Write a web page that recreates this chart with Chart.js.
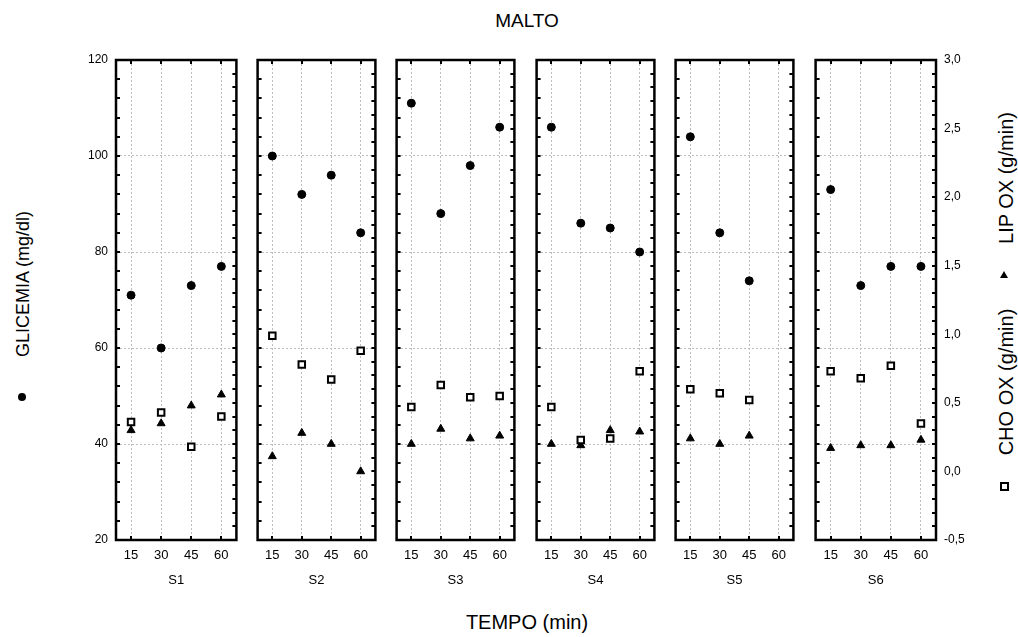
<!DOCTYPE html>
<html>
<head>
<meta charset="utf-8">
<script src="https://cdn.jsdelivr.net/npm/chart.js@4/dist/chart.umd.min.js"></script>
<style>
  body { margin: 0; background: #fff; }
  #wrap { position: relative; width: 1018px; height: 637px; overflow: hidden; font-family: "Liberation Sans", Arial, sans-serif; color: #000; }
  #wrap canvas { position: absolute; }
  .lbl { position: absolute; white-space: nowrap; transform: translate(-50%, -50%); line-height: 1; }
  .rot { transform: translate(-50%, -50%) rotate(-90deg); }
  .mk { position: absolute; }
</style>
</head>
<body>
<div id="wrap">
  <div class="lbl" style="left:527px; top:20px; font-size:19px;">MALTO</div>
  <div class="lbl" style="left:527px; top:622px; font-size:20px;">TEMPO (min)</div>
  <div class="lbl rot" style="left:23px; top:284px; font-size:18px;">GLICEMIA (mg/dl)</div>
  <div class="lbl rot" style="left:1006px; top:178px; font-size:20px;">LIP OX (g/min)</div>
  <div class="lbl rot" style="left:1006px; top:382px; font-size:20px;">CHO OX (g/min)</div>
  <div class="mk" style="left:18px; top:393px; width:8px; height:8px; border-radius:50%; background:#000;"></div>
  <div class="mk" style="left:1000px; top:271px; width:0; height:0; border-left:4px solid transparent; border-right:4px solid transparent; border-bottom:7px solid #000;"></div>
  <div class="mk" style="left:1000px; top:482px; width:5px; height:5px; border:2px solid #000; background:#fff;"></div>
</div>
<script>
const panels = ["S1", "S2", "S3", "S4", "S5", "S6"];
const tempo = ["15", "30", "45", "60"];

// GLICEMIA (mg/dl) - left axis
const glicemia = [
  [71, 60, 73, 77],
  [100, 92, 96, 84],
  [111, 88, 98, 106],
  [106, 86, 85, 80],
  [104, 84, 74, null],
  [93, 73, 77, 77]
];
// LIP OX (g/min) - right axis
const lipOx = [
  [0.30, 0.35, 0.48, 0.56],
  [0.11, 0.28, 0.20, 0.00],
  [0.20, 0.31, 0.24, 0.26],
  [0.20, 0.19, 0.30, 0.29],
  [0.24, 0.20, 0.26, null],
  [0.17, 0.19, 0.19, 0.23]
];
// CHO OX (g/min) - right axis
const choOx = [
  [0.36, 0.43, 0.18, 0.40],
  [0.99, 0.78, 0.67, 0.88],
  [0.47, 0.63, 0.54, 0.55],
  [0.47, 0.23, 0.24, 0.73],
  [0.60, 0.57, 0.52, null],
  [0.73, 0.68, 0.77, 0.35]
];

const panelLeft = [116, 255, 394, 534, 673, 813];
const panelW = 123;
const gridGrey = "#bdbdbd";

// frame + inward tick marks
const framePlugin = {
  id: "frame",
  afterDraw(chart) {
    const { ctx, chartArea: a, scales } = chart;
    ctx.save();
    ctx.strokeStyle = "#000";
    ctx.lineWidth = 2;
    ctx.beginPath();
    for (let v = 20; v <= 120; v += 4) {
      const y = Math.round(scales.y.getPixelForValue(v));
      ctx.moveTo(a.left, y); ctx.lineTo(a.left + 4, y);
    }
    for (let k = -5; k <= 30; k++) {
      const y = Math.round(scales.y2.getPixelForValue(k / 10));
      ctx.moveTo(a.right, y); ctx.lineTo(a.right - 4, y);
    }
    tempo.forEach((t, j) => {
      const x = Math.round(scales.x.getPixelForValue(j));
      ctx.moveTo(x, a.top); ctx.lineTo(x, a.top + 4);
      ctx.moveTo(x, a.bottom); ctx.lineTo(x, a.bottom - 4);
    });
    ctx.stroke();
    ctx.lineWidth = 2.5;
    ctx.strokeRect(a.left, a.top, a.right - a.left, a.bottom - a.top);
    ctx.restore();
  }
};

const noPad = s => { s.paddingLeft = 0; s.paddingRight = 0; s.paddingTop = 0; s.paddingBottom = 0; };

const wrap = document.getElementById("wrap");

panels.forEach((name, i) => {
  const wL = i === 0 ? 40 : 0;
  const wR = i === 5 ? 40 : 0;
  const cv = document.createElement("canvas");
  cv.width = panelW + 8 + wL + wR;
  cv.height = 540;
  cv.style.left = (panelLeft[i] - 4 - wL) + "px";
  cv.style.top = "50px";
  wrap.appendChild(cv);

  new Chart(cv, {
    type: "line",
    data: {
      labels: tempo,
      datasets: [
        {
          label: "GLICEMIA",
          data: glicemia[i],
          yAxisID: "y",
          showLine: false,
          pointStyle: "circle",
          pointRadius: 4,
          backgroundColor: "#000",
          borderColor: "#000",
          order: 1
        },
        {
          label: "CHO OX",
          data: choOx[i],
          yAxisID: "y2",
          showLine: false,
          pointStyle: "rect",
          pointRadius: 4.6,
          pointBorderWidth: 2,
          backgroundColor: "#fff",
          borderColor: "#000",
          order: 2
        },
        {
          label: "LIP OX",
          data: lipOx[i],
          yAxisID: "y2",
          showLine: false,
          pointStyle: "triangle",
          pointRadius: 4.6,
          backgroundColor: "#000",
          borderColor: "#000",
          order: 3
        }
      ]
    },
    options: {
      responsive: false,
      animation: false,
      events: [],
      layout: { padding: { left: 4, right: 4, top: 10, bottom: 0 } },
      plugins: { legend: { display: false }, tooltip: { enabled: false } },
      scales: {
        x: {
          type: "category",
          offset: true,
          grid: { color: gridGrey, lineWidth: 1, drawTicks: false, offset: false },
          border: { display: false, dash: [2, 2] },
          ticks: { color: "#000", font: { size: 13, family: "Liberation Sans" }, padding: 8, maxRotation: 0 },
          title: { display: true, text: name, color: "#000", font: { size: 13, family: "Liberation Sans" }, padding: { top: 0, bottom: 2 } },
          afterFit: s => { s.height = 50; noPad(s); }
        },
        y: {
          position: "left",
          min: 20,
          max: 120,
          grid: { color: gridGrey, lineWidth: 1, drawTicks: false },
          border: { display: false, dash: [2, 2] },
          ticks: { display: i === 0, stepSize: 20, color: "#000", font: { size: 12, family: "Liberation Sans" }, padding: 8 },
          afterFit: s => { s.width = wL; noPad(s); }
        },
        y2: {
          position: "right",
          display: i === 5,
          min: -0.5,
          max: 3.0,
          grid: { display: false, drawTicks: false },
          border: { display: false },
          ticks: {
            stepSize: 0.5,
            color: "#000",
            font: { size: 12, family: "Liberation Sans" },
            padding: 8,
            callback: v => v.toFixed(1).replace(".", ",")
          },
          afterFit: s => { s.width = wR; noPad(s); }
        }
      }
    },
    plugins: [framePlugin]
  });
});
</script>
</body>
</html>
